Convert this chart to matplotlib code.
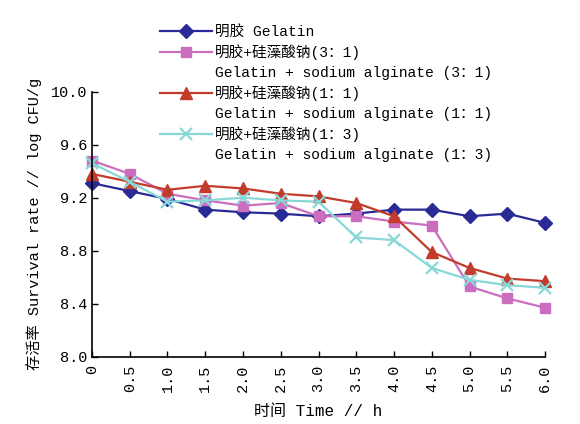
import matplotlib
matplotlib.use("Agg")
import matplotlib.pyplot as plt
from matplotlib.lines import Line2D

plt.rcParams['font.family'] = ['Liberation Mono', 'Noto Sans CJK SC', 'DejaVu Sans']

time_h = [0, 0.5, 1.0, 1.5, 2.0, 2.5, 3.0, 3.5, 4.0, 4.5, 5.0, 5.5, 6.0]
time_labels = ["0", "0.5", "1.0", "1.5", "2.0", "2.5", "3.0", "3.5", "4.0", "4.5", "5.0", "5.5", "6.0"]
gelatin = [9.31, 9.25, 9.19, 9.11, 9.09, 9.08, 9.06, 9.08, 9.11, 9.11, 9.06, 9.08, 9.01]
ga_3_1 = [9.48, 9.38, 9.23, 9.18, 9.14, 9.16, 9.06, 9.06, 9.02, 8.99, 8.53, 8.44, 8.37]
ga_1_1 = [9.38, 9.32, 9.26, 9.29, 9.27, 9.23, 9.21, 9.16, 9.06, 8.79, 8.67, 8.59, 8.57]
ga_1_3 = [9.46, 9.32, 9.17, 9.18, 9.20, 9.18, 9.17, 8.90, 8.88, 8.67, 8.58, 8.54, 8.52]
y_ticks = [8.0, 8.4, 8.8, 9.2, 9.6, 10.0]
y_labels = ["8.0", "8.4", "8.8", "9.2", "9.6", "10.0"]

names_cn = ["明胶 Gelatin", "明胶+硅藻酸钠(3：1)", "明胶+硅藻酸钠(1：1)", "明胶+硅藻酸钠(1：3)"]
names_en = [None, "Gelatin + sodium alginate (3：1)", "Gelatin + sodium alginate (1：1)", "Gelatin + sodium alginate (1：3)"]

fig = plt.figure(figsize=(5.8, 4.24), dpi=100)
ax = fig.add_axes([0.1586, 0.1587, 0.7811, 0.625])

styles = [
    dict(color='#2A2A96', marker='D', ms=7),
    dict(color='#CC6EC0', marker='s', ms=7),
    dict(color='#C23B2B', marker='^', ms=8.5),
    dict(color='#88D8D8', marker='x', ms=9, mew=1.6),
]
series = [gelatin, ga_3_1, ga_1_1, ga_1_3]
handles, labels = [], []
for vals, st, cn, en in zip(series, styles, names_cn, names_en):
    h, = ax.plot(time_h, vals, lw=1.6, clip_on=False, **st)
    handles.append(h)
    labels.append(cn)
    if en:
        handles.append(Line2D([], [], linestyle='none', marker=None))
        labels.append(en)

ax.set_xlim(0, 6.0)
ax.set_ylim(8.0, 10.0)
ax.set_xticks(time_h)
ax.set_xticklabels(time_labels, rotation=90)
ax.set_yticks(y_ticks)
ax.set_yticklabels(y_labels)
ax.tick_params(direction='in', length=4, width=1, labelsize=11, colors='black')
ax.tick_params(axis='x', pad=6)
for s in ['top', 'right']:
    ax.spines[s].set_visible(False)
for s in ['left', 'bottom']:
    ax.spines[s].set_linewidth(1.2)

ax.set_xlabel("时间 Time // h", fontsize=11.5, labelpad=8)
ax.set_ylabel("存活率 Survival rate // log CFU/g", fontsize=11, labelpad=6)

fig.legend(handles, labels, loc='upper left', bbox_to_anchor=(0.258, 0.965),
           frameon=False, fontsize=10.5, handlelength=3.6, handletextpad=0.2,
           labelspacing=0.38, borderpad=0.2)

fig.savefig("out.png", dpi=100)
